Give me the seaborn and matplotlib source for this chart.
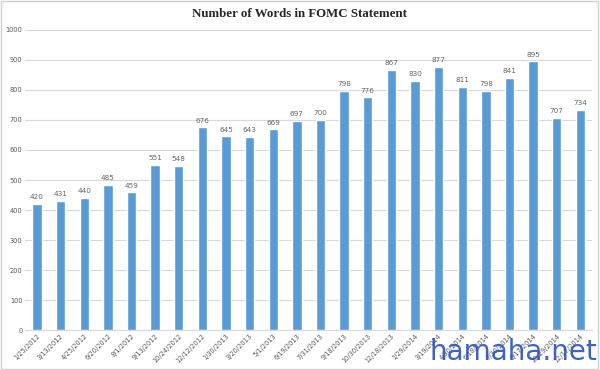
import pandas as pd
import matplotlib.pyplot as plt
import seaborn as sns
from matplotlib.patches import Rectangle

dates = ['1/25/2012', '3/13/2012', '4/25/2012', '6/20/2012', '8/1/2012', '9/13/2012',
         '10/24/2012', '12/12/2012', '1/30/2013', '3/20/2013', '5/1/2013', '6/19/2013',
         '7/31/2013', '9/18/2013', '10/30/2013', '12/18/2013', '1/29/2014', '3/19/2014',
         '4/30/2014', '6/18/2014', '7/30/2014', '9/17/2014', '10/29/2014', '12/17/2014']
words = [420, 431, 440, 485, 459, 551, 548, 676, 645, 643, 669, 697,
         700, 798, 776, 867, 830, 877, 811, 798, 841, 895, 707, 734]

df = pd.DataFrame({'date': dates, 'words': words})

sns.set_style('white')
plt.rcParams['font.family'] = ['DejaVu Sans']

fig = plt.figure(figsize=(6, 3.7), dpi=100)
ax = fig.add_axes([0.042, 0.108, 0.945, 0.811])

sns.barplot(data=df, x='date', y='words', color='#5B9BD5', saturation=1,
            width=0.4, ax=ax, zorder=3)

ax.set_ylim(0, 1000)
ax.set_yticks(range(0, 1001, 100))
ax.yaxis.grid(True, color='#D9D9D9', linewidth=0.8, zorder=0)
ax.set_axisbelow(True)
for s in ['top', 'right', 'left']:
    ax.spines[s].set_visible(False)
ax.spines['bottom'].set_color('#D9D9D9')
ax.set_xlabel('')
ax.set_ylabel('')
ax.tick_params(axis='both', length=0, labelsize=4.8, colors='#595959', pad=2)
plt.setp(ax.get_xticklabels(), rotation=45, ha='right', rotation_mode='anchor')

for i, v in enumerate(words):
    ax.text(i, v + 12, str(v), ha='center', va='bottom', fontsize=5.2, color='#666666')

fig.text(0.5, 0.962, 'Number of Words in FOMC Statement', ha='center', va='center',
         fontsize=9.3, fontweight='bold', family='Liberation Serif', color='#262626')

fig.text(0.995, 0.012, 'hamaha.net', ha='right', va='bottom', fontsize=20,
         color='#2A52BE', alpha=0.9)

fig.patches.append(Rectangle((0.002, 0.003), 0.995, 0.993, transform=fig.transFigure,
                             fill=False, edgecolor='#D0D0D0', linewidth=1))

fig.savefig('out.png', dpi=100)
